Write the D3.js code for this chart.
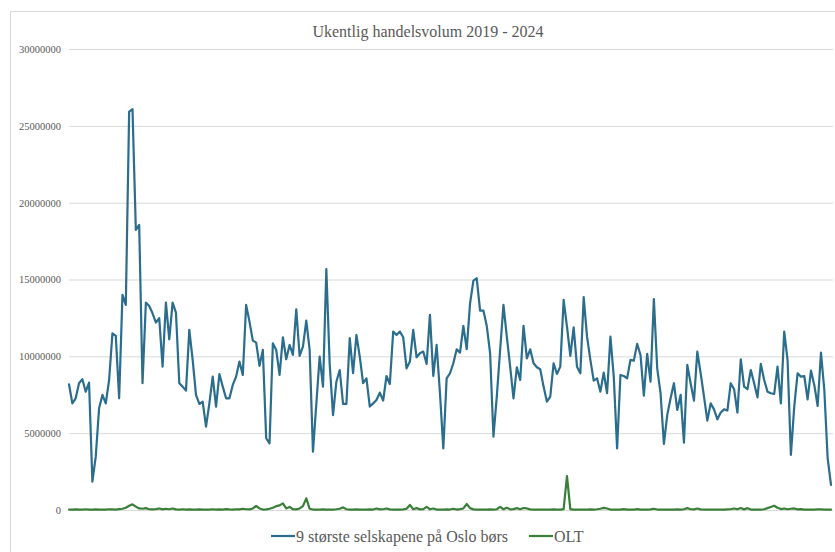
<!DOCTYPE html>
<html>
<head>
<meta charset="utf-8">
<script src="https://cdn.jsdelivr.net/npm/d3@7"></script>
<style>
  html, body { margin: 0; padding: 0; background: #ffffff; }
  svg { display: block; }
</style>
</head>
<body>
<svg id="chart" width="835" height="552"></svg>
<script>
// Weekly trading volume, millions of shares
const largestNine = [
  8.18, 6.94, 7.27, 8.25, 8.51, 7.70, 8.29, 1.84, 3.47, 6.62,
  7.49, 6.94, 8.46, 11.50, 11.33, 7.27, 14.00, 13.35, 25.93, 26.08,
  18.23, 18.55, 8.25, 13.50, 13.28, 12.80, 12.20, 12.48, 9.33, 13.50,
  11.11, 13.50, 12.85, 8.25, 8.03, 7.77, 11.72, 9.77, 7.49, 6.90,
  7.05, 5.43, 6.94, 8.68, 6.73, 8.85, 8.03, 7.27, 7.27, 8.14,
  8.68, 9.66, 8.79, 13.35, 12.26, 11.02, 10.89, 9.38, 10.42, 4.67,
  4.34, 10.85, 10.42, 8.79, 11.24, 9.81, 10.74, 10.09, 13.06, 10.03,
  10.63, 12.33, 10.42, 3.80, 6.90, 9.98, 8.03, 15.67, 9.50, 6.18,
  8.35, 9.11, 6.90, 6.90, 11.18, 8.90, 11.39, 9.98, 8.25, 8.57,
  6.73, 6.94, 7.16, 7.64, 7.12, 8.72, 8.20, 11.61, 11.39, 11.61,
  11.24, 9.22, 9.66, 11.72, 9.94, 10.20, 10.31, 9.51, 12.70, 8.72,
  10.74, 7.60, 4.01, 8.57, 8.90, 9.55, 10.46, 10.24, 11.98, 10.46,
  13.45, 14.93, 15.08, 12.98, 12.98, 11.98, 10.20, 4.77, 7.38, 10.42,
  13.35, 11.28, 9.33, 7.27, 9.29, 8.46, 11.98, 9.87, 10.46, 9.55,
  9.29, 9.16, 8.03, 7.05, 7.38, 9.55, 8.85, 9.33, 13.67, 11.94,
  10.03, 11.89, 9.33, 8.90, 13.85, 11.28, 9.77, 8.42, 8.57, 7.70,
  8.94, 7.60, 11.28, 8.68, 4.01, 8.79, 8.72, 8.57, 9.77, 9.72,
  10.81, 10.09, 7.44, 10.16, 8.35, 13.72, 9.22, 7.60, 4.30, 6.18,
  7.27, 8.25, 6.51, 7.49, 4.38, 9.44, 8.25, 7.12, 10.31, 8.90,
  7.38, 5.82, 6.94, 6.55, 5.90, 6.34, 6.55, 6.47, 8.25, 7.86,
  6.34, 9.81, 8.03, 7.86, 9.11, 8.25, 7.33, 9.51, 8.46, 7.70,
  7.60, 7.55, 9.33, 6.94, 11.61, 9.77, 3.58, 6.73, 8.90, 8.68,
  8.72, 7.20, 9.07, 8.14, 6.77, 10.24, 7.81, 3.36, 1.63
];

const olt = [
  0.03, 0.02, 0.04, 0.03, 0.02, 0.05, 0.03, 0.02, 0.04, 0.03,
  0.02, 0.03, 0.05, 0.04, 0.03, 0.06, 0.08, 0.15, 0.28, 0.37,
  0.22, 0.10, 0.08, 0.12, 0.05, 0.04, 0.06, 0.10, 0.04, 0.08,
  0.05, 0.10, 0.04, 0.03, 0.05, 0.03, 0.04, 0.03, 0.02, 0.04,
  0.03, 0.02, 0.03, 0.05, 0.03, 0.04, 0.03, 0.06, 0.04, 0.03,
  0.05, 0.04, 0.08, 0.05, 0.04, 0.10, 0.26, 0.10, 0.03, 0.04,
  0.08, 0.15, 0.25, 0.30, 0.43, 0.10, 0.20, 0.05, 0.04, 0.10,
  0.25, 0.76, 0.08, 0.03, 0.02, 0.03, 0.04, 0.03, 0.02, 0.03,
  0.05, 0.08, 0.17, 0.05, 0.03, 0.02, 0.04, 0.03, 0.02, 0.03,
  0.04, 0.03, 0.10, 0.04, 0.05, 0.10, 0.04, 0.03, 0.02, 0.03,
  0.04, 0.08, 0.33, 0.05, 0.12, 0.04, 0.06, 0.20, 0.05, 0.10,
  0.03, 0.02, 0.03, 0.04, 0.03, 0.08, 0.03, 0.06, 0.10, 0.39,
  0.12, 0.04, 0.03, 0.02, 0.03, 0.02, 0.04, 0.03, 0.05, 0.20,
  0.05, 0.15, 0.04, 0.06, 0.12, 0.05, 0.13, 0.10, 0.04, 0.02,
  0.03, 0.02, 0.03, 0.02, 0.03, 0.04, 0.03, 0.02, 0.06, 2.20,
  0.06, 0.03, 0.02, 0.03, 0.02, 0.03, 0.04, 0.03, 0.05, 0.08,
  0.14, 0.10, 0.03, 0.02, 0.03, 0.02, 0.06, 0.03, 0.02, 0.03,
  0.06, 0.03, 0.02, 0.03, 0.04, 0.08, 0.03, 0.02, 0.03, 0.02,
  0.03, 0.02, 0.04, 0.03, 0.05, 0.12, 0.05, 0.04, 0.10, 0.04,
  0.03, 0.02, 0.03, 0.02, 0.03, 0.02, 0.03, 0.04, 0.05, 0.10,
  0.05, 0.13, 0.04, 0.12, 0.03, 0.02, 0.03, 0.02, 0.05, 0.12,
  0.20, 0.28, 0.15, 0.06, 0.10, 0.05, 0.08, 0.10, 0.04, 0.06,
  0.03, 0.02, 0.03, 0.02, 0.05, 0.04, 0.03, 0.02, 0.03
];

const yTicks = [0, 5000000, 10000000, 15000000, 20000000, 25000000, 30000000];
const seriesNames = ["9 største selskapene på Oslo børs", "OLT"];
const seriesColors = ["#2a6d8d", "#3a7f37"];
const chartTitle = "Ukentlig handelsvolum 2019 - 2024";

const svg = d3.select("#chart");
const serif = "'Liberation Serif', 'Times New Roman', serif";

// outer frame
svg.append("rect")
  .attr("x", 10.5).attr("y", 11.5)
  .attr("width", 830).attr("height", 560)
  .attr("fill", "none").attr("stroke", "#d9d9d9").attr("stroke-width", 1);

const plot = { left: 69, right: 831, top: 49, bottom: 510 };

const x = d3.scaleLinear()
  .domain([0, largestNine.length - 1])
  .range([plot.left, plot.right]);

const y = d3.scaleLinear()
  .domain([0, 30000000])
  .range([plot.bottom, plot.top]);

// horizontal gridlines + value labels
const yAxis = d3.axisLeft(y)
  .tickValues(yTicks)
  .tickFormat(d => String(d))
  .tickSize(-(plot.right + 2 - plot.left))
  .tickPadding(8);

const gy = svg.append("g")
  .attr("transform", `translate(${plot.left},0)`)
  .call(yAxis);
gy.select(".domain").remove();
gy.selectAll(".tick line").attr("stroke", "#d9d9d9").attr("stroke-width", 1);
gy.selectAll(".tick text")
  .attr("fill", "#595959")
  .style("font-family", serif)
  .style("font-size", "10.5px");

// title
svg.append("text")
  .attr("x", 428).attr("y", 37)
  .attr("text-anchor", "middle")
  .attr("fill", "#595959")
  .style("font-family", serif)
  .style("font-size", "16px")
  .text(chartTitle);

const line = d3.line()
  .x((d, i) => x(i))
  .y(d => y(d * 1e6));

const series = [largestNine, olt];

// OLT drawn first so the larger series sits on top
[1, 0].forEach(s => {
  svg.append("path")
    .datum(series[s])
    .attr("d", line)
    .attr("fill", "none")
    .attr("stroke", seriesColors[s])
    .attr("stroke-width", 2.2)
    .attr("stroke-linejoin", "round")
    .attr("stroke-linecap", "round");
});

// legend
const legendItems = [
  { x: 271, name: seriesNames[0], color: seriesColors[0] },
  { x: 529, name: seriesNames[1], color: seriesColors[1] }
];
const lg = svg.append("g");
legendItems.forEach(it => {
  lg.append("line")
    .attr("x1", it.x).attr("x2", it.x + 24)
    .attr("y1", 536).attr("y2", 536)
    .attr("stroke", it.color).attr("stroke-width", 2.2);
  lg.append("text")
    .attr("x", it.x + 25).attr("y", 541.5)
    .attr("fill", "#595959")
    .style("font-family", serif)
    .style("font-size", "16px")
    .text(it.name);
});
</script>
</body>
</html>
